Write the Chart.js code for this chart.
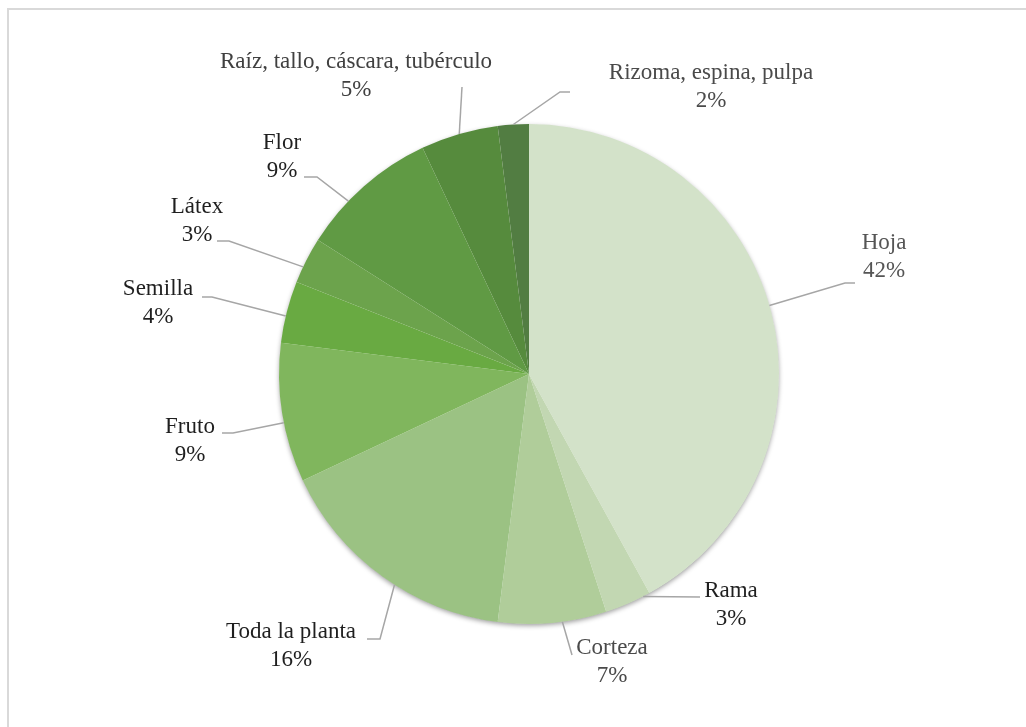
<!DOCTYPE html>
<html>
<head>
<meta charset="utf-8">
<script src="https://cdn.jsdelivr.net/npm/chart.js@4.4.1/dist/chart.umd.min.js"></script>
<style>
    html, body { margin: 0; padding: 0; background: #ffffff; overflow: hidden; }
    .frame {
        position: absolute;
        left: 7px;
        top: 8px;
        width: 1040px;
        height: 740px;
        border: 2px solid #d9d9d9;
    }
    #partsChart { position: absolute; left: 0; top: 0; }
</style>
</head>
<body>
<div class="frame"></div>
<canvas id="partsChart" width="1026" height="727"></canvas>
<script>
const categories = [
    'Hoja', 'Rama', 'Corteza', 'Toda la planta', 'Fruto',
    'Semilla', 'Látex', 'Flor', 'Raíz, tallo, cáscara, tubérculo', 'Rizoma, espina, pulpa'
];
const shares = [42, 3, 7, 16, 9, 4, 3, 9, 5, 2];
const sliceColors = [
    '#d3e2c9', '#c2d7b2', '#b0cd9a', '#9bc283', '#80b65d',
    '#69aa42', '#6ca34c', '#609a44', '#568b3d', '#527d42'
];

// callout text position, leader bend/end, and how far along the slice the leader attaches
const calloutLayout = [
    { x: 884, y: 243, along: 0.49, bend: [845, 283], end: [855, 283], color: '#555555' },
    { x: 731, y: 591, along: 0.15, bend: [700, 597], end: [700, 597], color: '#1f1f1f' },
    { x: 612, y: 648, along: 0.41, bend: [572, 655], end: [572, 655], color: '#4a4a4a' },
    { x: 291, y: 632, along: 0.44, bend: [380, 639], end: [367, 639], color: '#1f1f1f' },
    { x: 190, y: 427, along: 0.43, bend: [233, 433], end: [222, 433], color: '#1f1f1f' },
    { x: 158, y: 289, along: 0.43, bend: [212, 297], end: [202, 297], color: '#1f1f1f' },
    { x: 197, y: 207, along: 0.35, bend: [229, 241], end: [217, 241], color: '#1f1f1f' },
    { x: 282, y: 143, along: 0.35, bend: [317, 177], end: [304, 177], color: '#1f1f1f' },
    { x: 356, y: 62,  along: 0.5,  bend: [462, 87],  end: [462, 87],  color: '#404040' },
    { x: 711, y: 73,  along: 0.5,  bend: [560, 92],  end: [570, 92],  color: '#4a4a4a' }
];

const pieShadow = {
    id: 'pieShadow',
    beforeDatasetsDraw(chart) {
        const arc = chart.getDatasetMeta(0).data[0];
        if (!arc) return;
        const ctx = chart.ctx;
        ctx.save();
        ctx.shadowColor = 'rgba(0, 0, 0, 0.4)';
        ctx.shadowBlur = 5;
        ctx.shadowOffsetY = 2;
        ctx.fillStyle = '#ffffff';
        ctx.beginPath();
        ctx.arc(arc.x, arc.y, arc.outerRadius - 0.5, 0, Math.PI * 2);
        ctx.fill();
        ctx.restore();
    }
};

const callouts = {
    id: 'callouts',
    afterDatasetsDraw(chart) {
        const ctx = chart.ctx;
        const arcs = chart.getDatasetMeta(0).data;
        ctx.save();
        ctx.font = '23px "Liberation Serif", "Times New Roman", serif';
        ctx.textAlign = 'center';
        ctx.textBaseline = 'middle';
        arcs.forEach((arc, i) => {
            const spot = calloutLayout[i];
            const ang = arc.startAngle + (arc.endAngle - arc.startAngle) * spot.along;
            const sx = arc.x + Math.cos(ang) * arc.outerRadius;
            const sy = arc.y + Math.sin(ang) * arc.outerRadius;

            ctx.strokeStyle = '#a6a6a6';
            ctx.lineWidth = 1.5;
            ctx.beginPath();
            ctx.moveTo(sx, sy);
            ctx.lineTo(spot.bend[0], spot.bend[1]);
            ctx.lineTo(spot.end[0], spot.end[1]);
            ctx.stroke();

            ctx.fillStyle = spot.color;
            ctx.fillText(categories[i], spot.x, spot.y);
            ctx.fillText(shares[i] + '%', spot.x, spot.y + 28);
        });
        ctx.restore();
    }
};

new Chart(document.getElementById('partsChart'), {
    type: 'pie',
    data: {
        labels: categories,
        datasets: [{
            data: shares,
            backgroundColor: sliceColors,
            borderWidth: 0
        }]
    },
    options: {
        responsive: false,
        animation: false,
        devicePixelRatio: 1,
        layout: {
            padding: { left: 279, right: 247, top: 124, bottom: 103 }
        },
        plugins: {
            legend: { display: false },
            tooltip: { enabled: false }
        }
    },
    plugins: [pieShadow, callouts]
});
</script>
</body>
</html>
